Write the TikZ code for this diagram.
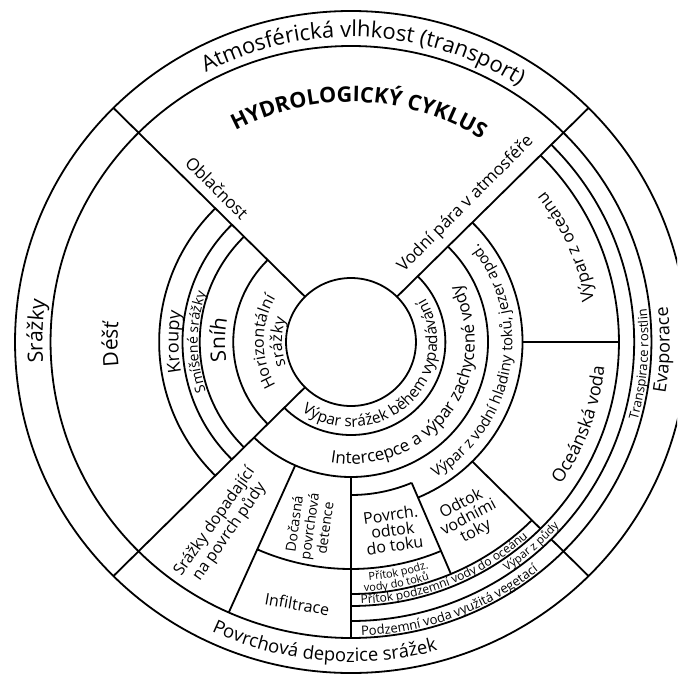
\documentclass[tikz,border=0pt]{standalone}
\usepackage{fontspec}
\setmainfont{Open Sans}
\usetikzlibrary{decorations.text}
\newcommand{\txtsize}[1]{\fontsize{#1}{#1}\selectfont}
\tikzset{
  along/.style={decorate, decoration={text along path, text align=center, text={#1}}},
  box text/.style={align=center, inner sep=0pt},
}

\begin{document}
\begin{tikzpicture}[x=1.015pt, y=1pt, line width=1.8pt]
\useasboundingbox (0,0) rectangle (667,-679);
\clip (0,0) rectangle (667,-679);
\begin{scope}[shift={(345.8,-342)}]
  % circles
  \draw (0,0) circle[radius=331];
  \draw (0,0) circle[radius=296];
  \draw (0,0) circle[radius=64];

  % left sector rings
  \foreach \rad in {189,166,149,116}
    \draw (135:\rad) arc[start angle=135, end angle=225, radius=\rad];

  % right and bottom rings
  \foreach \rad in {93,135}
    \draw (225:\rad) arc[start angle=225, end angle=405, radius=\rad];
  \draw (270:153) arc[start angle=270, end angle=293, radius=153];
  \draw (293:169) arc[start angle=293, end angle=405, radius=169];
  \draw (246:227) arc[start angle=246, end angle=293, radius=227];
  \draw (270:252) arc[start angle=270, end angle=315, radius=252];
  \foreach \rad in {264,279}
    \draw (270:\rad) arc[start angle=270, end angle=405, radius=\rad];

  % dividers
  \foreach \ang in {45,135,225}
    \draw (\ang:64) -- (\ang:331);
  \draw (315:169) -- (315:264) (315:279) -- (315:331);
  \draw (246:135) -- (246:296);
  \draw (270:135) -- (270:296);
  \draw (293:153) -- (293:252);
  \draw (0:169) -- (0:264);

  % outer ring texts
  \path[along={|\txtsize{22}|Atmosférická vlhkost (transport)}] (140:305) arc[start angle=140, end angle=35, radius=305];
  \path[along={|\txtsize{18.5}|Povrchová depozice srážek}] (215:320) arc[start angle=215, end angle=315, radius=320];
  \path[along={|\txtsize{21}|Srážky}] (205:304) arc[start angle=205, end angle=151, radius=304];
  \path[along={|\txtsize{18}|Evaporace}] (-30:314) arc[start angle=-30, end angle=27, radius=314];
  \path[along={|\bfseries\txtsize{21.5}|HYDROLOGICKÝ CYKLUS}] (138:240) arc[start angle=138, end angle=38, radius=240];

  % precipitation
  \path[along={|\txtsize{21}|Déšť}] (205:230) arc[start angle=205, end angle=156, radius=230];
  \path[along={|\txtsize{18}|Kroupy}] (210:170) arc[start angle=210, end angle=150, radius=170];
  \path[along={|\txtsize{14}|Smíšené srážky}] (220:151) arc[start angle=220, end angle=140, radius=151];
  \path[along={|\txtsize{21}|Sníh}] (205:124) arc[start angle=205, end angle=153, radius=124];
  \path[along={|\txtsize{16}|Horizontální}] (230:86) arc[start angle=230, end angle=130, radius=86];
  \path[along={|\txtsize{16}|srážky}] (225:68) arc[start angle=225, end angle=135, radius=68];

  % evaporation and runoff
  \path[along={|\txtsize{15.5}|Výpar srážek během vypadávání}] (220:85) arc[start angle=220, end angle=406, radius=85];
  \path[along={|\txtsize{17}|Intercepce a výpar zachycené vody}] (225:122) arc[start angle=225, end angle=424, radius=122];
  \path[along={|\txtsize{15}|Výpar z vodní hladiny toků, jezer apod.}] (275:159) arc[start angle=275, end angle=425, radius=159];
  \path[along={|\txtsize{18}|Oceánská voda}] (-60:251) arc[start angle=-60, end angle=20, radius=251];
  \path[along={|\txtsize{17}|Výpar z oceánu}] (-16:243) arc[start angle=-16, end angle=64, radius=243];
  \path[along={|\txtsize{13}|Transpirace rostlin}] (-40:293) arc[start angle=-40, end angle=31, radius=293];
  \path[along={|\txtsize{11.5}|Výpar z půdy}] (-75:276) arc[start angle=-75, end angle=-23, radius=276];
  \path[along={|\txtsize{12}|Přítok podzemní vody do oceánu}] (-100:262) arc[start angle=-100, end angle=-36, radius=262];
  \path[along={|\txtsize{13}|Podzemní voda využitá vegetací}] (-100:294) arc[start angle=-100, end angle=-39, radius=294];
  \path[along={|\txtsize{11}|Přítok podz.}] (-95:239) arc[start angle=-95, end angle=-62, radius=239];
  \path[along={|\txtsize{11}|vody do toků}] (-97:250) arc[start angle=-97, end angle=-62, radius=250];

  % straight labels
  \node[font=\txtsize{17}, rotate=-45] (obl) at (-132,154) {Oblačnost};
  \node[font=\txtsize{17}, rotate=45] (para) at (113,138) {Vodní pára v atmosféře};
  \node[box text, font=\fontsize{16}{18}\selectfont, rotate=55] (dopad) at (-127,-185) {Srážky dopadající\\na povrch půdy};
  \node[box text, font=\fontsize{14}{15.5}\selectfont, rotate=82] (detence) at (-41,-184) {Dočasná\\povrchová\\detence};
  \node[font=\txtsize{16}, rotate=-10] (infil) at (-53,-262) {Infiltrace};
  \node[box text, font=\fontsize{16}{15.5}\selectfont, rotate=8] (povrch) at (41,-188) {Povrch.\\odtok\\do toku};
  \node[box text, font=\fontsize{16}{15.5}\selectfont, rotate=28] (odtok) at (116,-176) {Odtok\\vodními\\toky};
\end{scope}
\end{tikzpicture}
\end{document}
